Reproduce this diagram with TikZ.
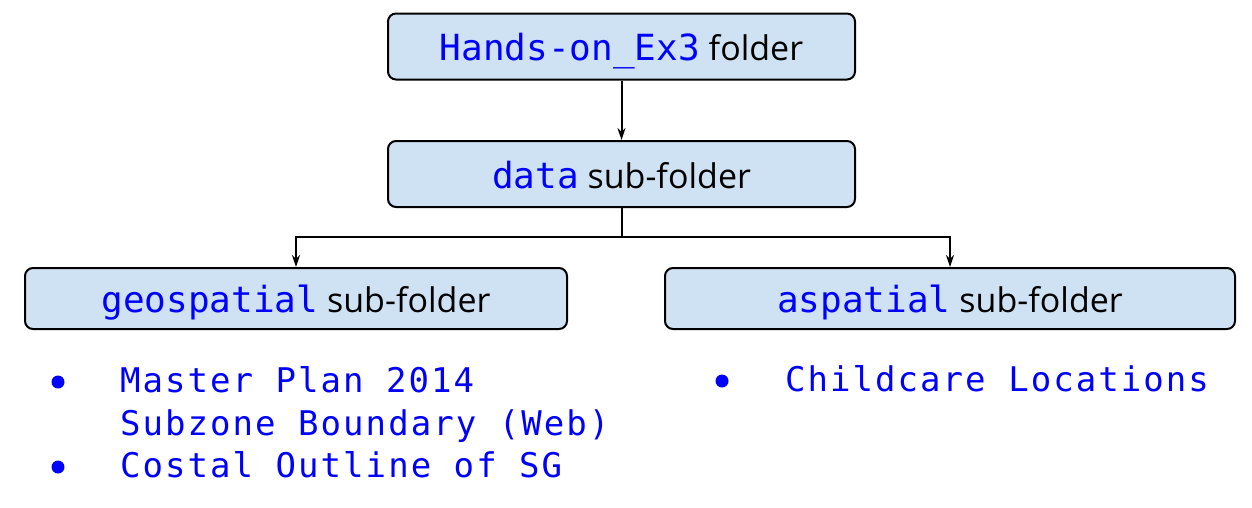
\documentclass[tikz,border=0pt]{standalone}
\usepackage{fontspec}
\setmainfont{Open Sans}
\newfontfamily\codefont{DejaVu Sans Mono}
\newfontfamily\listfont[LetterSpace=6]{DejaVu Sans Mono}
\usepackage{xcolor}
\usetikzlibrary{arrows.meta, positioning}
\definecolor{folderblue}{HTML}{CFE2F3}
\definecolor{codeblue}{HTML}{0000FF}
\newcommand{\code}[1]{{\codefont\fontsize{36}{40}\selectfont\color{codeblue}#1}}
\tikzset{
  folder/.style ={rectangle, draw=black, line width=2pt, rounded corners=8pt,
                  fill=folderblue, align=center, inner sep=0pt,
                  text height=34pt, text depth=6pt,
                  font=\fontsize{34}{40}\selectfont},
  arr/.style    ={-{Stealth[length=12pt, width=8pt]}, line width=2pt, black},
  item/.style   ={anchor=base west, inner sep=0pt, text=codeblue,
                  font=\listfont\fontsize{34}{40}\selectfont},
  dot/.style    ={circle, fill=codeblue, inner sep=0pt, minimum size=13pt}
}
\begin{document}
\begin{tikzpicture}[x=1pt, y=-1pt]
\useasboundingbox (0,0) rectangle (1252,507);

\node[folder, minimum width=467pt, minimum height=66pt] (ex3) at (621.5,46.5)
      {\code{Hands-on\_Ex3} folder};
\node[folder, minimum width=467pt, minimum height=66pt] (data) at (621.5,174)
      {\code{data} sub-folder};
\node[folder, minimum width=542pt, minimum height=61pt] (geo) at (296,298.5)
      {\code{geospatial} sub-folder};
\node[folder, minimum width=570pt, minimum height=61pt] (asp) at (950,298.5)
      {\code{aspatial} sub-folder};

\draw[arr] (ex3) -- (data);

% split towards the two sub-folders
\coordinate (split) at (621.5,237);
\draw[line width=2pt] (data.south) -- (split);
\draw[arr] (split) -| (geo.north);
\draw[arr] (split) -| (asp.north);

% contents of each sub-folder
\node[dot] (b1) at (58,382) {};
\node[item] (i1) at (120,392) {Master Plan 2014};
\node[item] (i1b) at (120,435) {Subzone Boundary (Web)};
\node[dot] (b2) at (58,467) {};
\node[item] (i2) at (120,477) {Costal Outline of SG};
\node[dot] (b3) at (722,381) {};
\node[item] (i3) at (785,391) {Childcare Locations};

\end{tikzpicture}
\end{document}
